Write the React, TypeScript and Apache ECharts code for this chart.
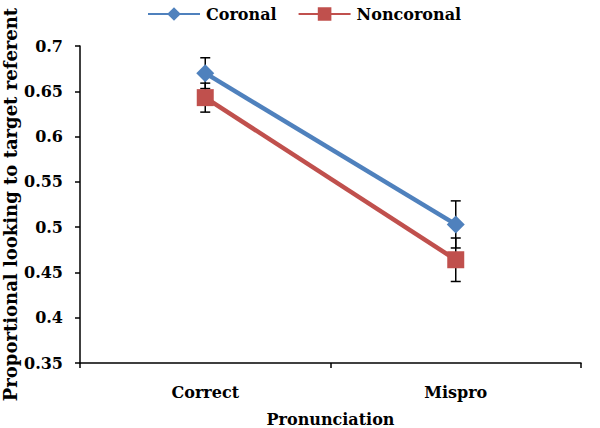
import React, { useEffect, useRef } from "react";
import * as echarts from "echarts";

const categories = ["Correct", "Mispro"];
const seriesNames = ["Coronal", "Noncoronal"];
const coronalValues = [0.670, 0.503];
const noncoronalValues = [0.643, 0.464];
const coronalErrors = [0.017, 0.026];
const noncoronalErrors = [0.016, 0.024];
const yTicks = { min: 0.35, max: 0.7, interval: 0.05 };

const FONT = "DejaVu Serif";
const BLUE = "#4F81BD";
const RED = "#C0504D";
const FS = 16;

function errorData(values: number[], errors: number[]) {
  return values.map((v, i) => [i, v - errors[i], v + errors[i]]);
}

function errorSeries(name: string, values: number[], errors: number[]) {
  return {
    name: name + " error",
    type: "custom",
    data: errorData(values, errors),
    encode: { x: 0, y: [1, 2] },
    z: 1,
    silent: true,
    renderItem: (params: any, api: any) => {
      const idx = api.value(0);
      const lo = api.coord([idx, api.value(1)]);
      const hi = api.coord([idx, api.value(2)]);
      const cap = 5;
      const style = { stroke: "#000", lineWidth: 1.5, fill: null };
      return {
        type: "group",
        children: [
          { type: "line", shape: { x1: lo[0], y1: lo[1], x2: hi[0], y2: hi[1] }, style },
          { type: "line", shape: { x1: lo[0] - cap, y1: lo[1], x2: lo[0] + cap, y2: lo[1] }, style },
          { type: "line", shape: { x1: hi[0] - cap, y1: hi[1], x2: hi[0] + cap, y2: hi[1] }, style },
        ],
      };
    },
  };
}

export default function App() {
  const ref = useRef<HTMLDivElement>(null);
  useEffect(() => {
    document.body.style.margin = "0";
    if (!ref.current) return;
    const chart = echarts.init(ref.current, undefined, { renderer: "svg" });
    const txt = { fontFamily: FONT, fontWeight: "bold", fontSize: FS, color: "#000" };
    chart.setOption({
      animation: false,
      textStyle: { fontFamily: FONT, fontWeight: "bold", color: "#000" },
      legend: {
        data: seriesNames,
        top: 1,
        left: 142,
        itemWidth: 52,
        itemHeight: 17,
        itemGap: 21,
        textStyle: { ...txt, padding: [0, 0, 0, 1] },
      },
      grid: { left: 80, right: 19, top: 46, bottom: 65, containLabel: false, outerBoundsMode: "none" },
      xAxis: {
        type: "category",
        data: categories,
        boundaryGap: true,
        name: "Pronunciation",
        nameLocation: "middle",
        nameGap: 48,
        nameMoveOverlap: false,
        nameTextStyle: txt,
        axisLine: { lineStyle: { color: "#000", width: 1.5 } },
        axisTick: { show: true, length: 5, inside: false, lineStyle: { color: "#000", width: 1.5 } },
        axisLabel: { margin: 21, ...txt },
        splitLine: { show: false },
      },
      yAxis: {
        type: "value",
        min: yTicks.min,
        max: yTicks.max,
        interval: yTicks.interval,
        name: "Proportional looking to target referent",
        nameLocation: "middle",
        nameRotate: 90,
        nameGap: 61,
        nameMoveOverlap: false,
        nameTextStyle: { ...txt, fontSize: 18 },
        axisLine: { show: true, lineStyle: { color: "#000", width: 1.5 } },
        axisTick: { show: true, length: 5, lineStyle: { color: "#000", width: 1.5 } },
        axisLabel: {
          margin: 17,
          ...txt,
          formatter: (v: number) => String(Math.round(v * 100) / 100),
        },
        splitLine: { show: false },
      },
      series: [
        errorSeries("Coronal", coronalValues, coronalErrors),
        errorSeries("Noncoronal", noncoronalValues, noncoronalErrors),
        {
          name: "Coronal",
          type: "line",
          data: coronalValues,
          symbol: "diamond",
          symbolSize: 18,
          z: 3,
          lineStyle: { color: BLUE, width: 4.5 },
          itemStyle: { color: BLUE },
        },
        {
          name: "Noncoronal",
          type: "line",
          data: noncoronalValues,
          symbol: "rect",
          symbolSize: 17,
          z: 2,
          lineStyle: { color: RED, width: 4.5 },
          itemStyle: { color: RED },
        },
      ],
    });
    return () => chart.dispose();
  }, []);
  return <div ref={ref} style={{ width: 600, height: 428 }} />;
}
